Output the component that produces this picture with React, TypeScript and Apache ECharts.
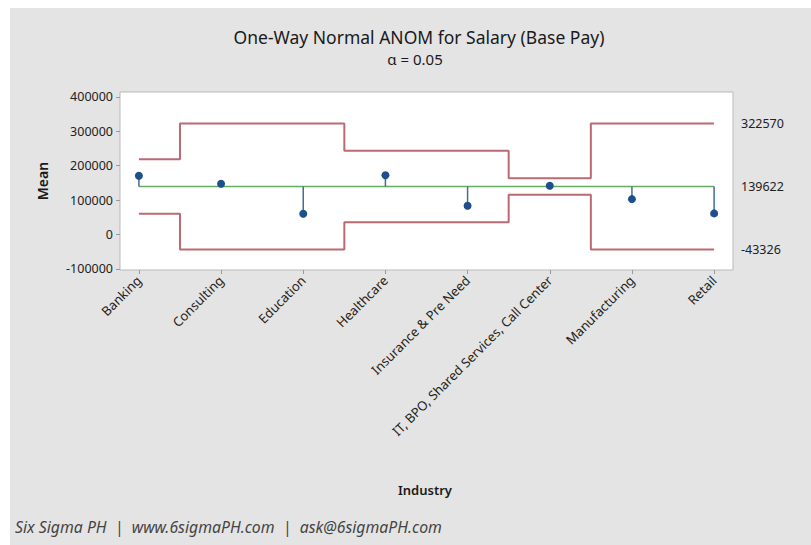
import React, { useEffect, useRef } from "react";
import * as echarts from "echarts";

const categories = [
  "Banking",
  "Consulting",
  "Education",
  "Healthcare",
  "Insurance & Pre Need",
  "IT, BPO, Shared Services, Call Center",
  "Manufacturing",
  "Retail",
];
const means = [170500, 147500, 60500, 172400, 83700, 141600, 102800, 61400];
const centerLine = 139622;
const upperLimits = [218500, 322570, 322570, 243500, 243500, 163600, 322570, 322570];
const lowerLimits = [60700, -43326, -43326, 35700, 35700, 115600, -43326, -43326];
const yTicks = [-100000, 0, 100000, 200000, 300000, 400000];
const rightLabels = [322570, 139622, -43326];

const FONT = "'Noto Sans', 'Open Sans', sans-serif";

export default function App() {
  const ref = useRef<HTMLDivElement>(null);
  useEffect(() => {
    if (!ref.current) return;
    const chart = echarts.init(ref.current, null, { renderer: "svg" });
    const idx = categories.map((_, i) => i);
    chart.setOption({
      animation: false,
      backgroundColor: "#ffffff",
      textStyle: { fontFamily: FONT },
      grid: {
        left: 120,
        top: 92,
        right: 78,
        bottom: 275,
        show: true,
        backgroundColor: "#ffffff",
        borderColor: "#b9b9b9",
        borderWidth: 1,
      },
      graphic: [
        {
          type: "rect",
          z: -10,
          silent: true,
          shape: { x: 10, y: 8, width: 801, height: 537 },
          style: { fill: "#e4e4e4" },
        },
        {
          type: "text",
          x: 419,
          y: 37,
          style: {
            text: "One-Way Normal ANOM for Salary (Base Pay)",
            fill: "#1a1a1a",
            font: `17.5px ${FONT}`,
            align: "center",
            verticalAlign: "middle",
          },
        },
        {
          type: "text",
          x: 415,
          y: 59,
          style: {
            text: "α = 0.05",
            fill: "#1a1a1a",
            font: `15px ${FONT}`,
            align: "center",
            verticalAlign: "middle",
          },
        },
        {
          type: "text",
          x: 42,
          y: 181,
          rotation: Math.PI / 2,
          style: {
            text: "Mean",
            fill: "#1a1a1a",
            font: `600 14px ${FONT}`,
            align: "center",
            verticalAlign: "middle",
          },
        },
        {
          type: "text",
          x: 425,
          y: 490,
          style: {
            text: "Industry",
            fill: "#1a1a1a",
            font: `600 13px ${FONT}`,
            align: "center",
            verticalAlign: "middle",
          },
        },
        {
          type: "text",
          x: 15,
          y: 527,
          style: {
            text: "Six Sigma PH  |  www.6sigmaPH.com  |  ask@6sigmaPH.com",
            fill: "#444444",
            font: `italic 15.8px ${FONT}`,
            align: "left",
            verticalAlign: "middle",
          },
        },
      ],
      xAxis: {
        type: "value",
        min: -0.23,
        max: 7.23,
        splitLine: { show: false },
        axisLine: { show: false, onZero: false },
        axisTick: {
          show: true,
          customValues: idx,
          length: 4,
          lineStyle: { color: "#9a9a9a" },
        },
        axisLabel: {
          customValues: idx,
          rotate: 45,
          margin: 8,
          fontSize: 13,
          color: "#222222",
          formatter: (v: number) => categories[Math.round(v)] ?? "",
        },
      },
      yAxis: [
        {
          type: "value",
          min: -103000,
          max: 414000,
          splitLine: { show: false },
          axisLine: { show: false, onZero: false },
          axisTick: {
            show: true,
            customValues: yTicks,
            length: 4,
            lineStyle: { color: "#9a9a9a" },
          },
          axisLabel: {
            customValues: yTicks,
            fontSize: 12.5,
            color: "#222222",
            margin: 7,
            formatter: (v: number) => String(v),
          },
        },
        {
          type: "value",
          position: "right",
          min: -103000,
          max: 414000,
          splitLine: { show: false },
          axisLine: { show: false, onZero: false },
          axisTick: { show: false },
          axisLabel: {
            customValues: rightLabels,
            fontSize: 12.5,
            color: "#222222",
            margin: 8,
            formatter: (v: number) => String(v),
          },
        },
      ],
      series: [
        {
          type: "line",
          step: "middle",
          symbol: "none",
          data: idx.map((i) => [i, upperLimits[i]]),
          lineStyle: { color: "#bb6a72", width: 2 },
          z: 2,
        },
        {
          type: "line",
          step: "middle",
          symbol: "none",
          data: idx.map((i) => [i, lowerLimits[i]]),
          lineStyle: { color: "#bb6a72", width: 2 },
          z: 2,
        },
        {
          type: "line",
          symbol: "none",
          data: idx.map((i) => [i, centerLine]),
          lineStyle: { color: "#63ae63", width: 1.6 },
          z: 3,
        },
        {
          type: "custom",
          z: 4,
          data: idx.map((i) => [i, means[i]]),
          renderItem: (params: any, api: any) => {
            const x = api.value(0);
            const y = api.value(1);
            const p = api.coord([x, y]);
            const c = api.coord([x, centerLine]);
            return {
              type: "group",
              children: [
                {
                  type: "line",
                  shape: { x1: c[0], y1: c[1], x2: p[0], y2: p[1] },
                  style: { stroke: "#3f6f96", lineWidth: 1.5 },
                },
                {
                  type: "circle",
                  shape: { cx: p[0], cy: p[1], r: 4 },
                  style: { fill: "#1c4f8c" },
                },
              ],
            };
          },
        },
      ],
    });
    return () => chart.dispose();
  }, []);
  return (
    <div
      ref={ref}
      style={{ position: "absolute", left: 0, top: 0, width: 811, height: 545 }}
    />
  );
}
